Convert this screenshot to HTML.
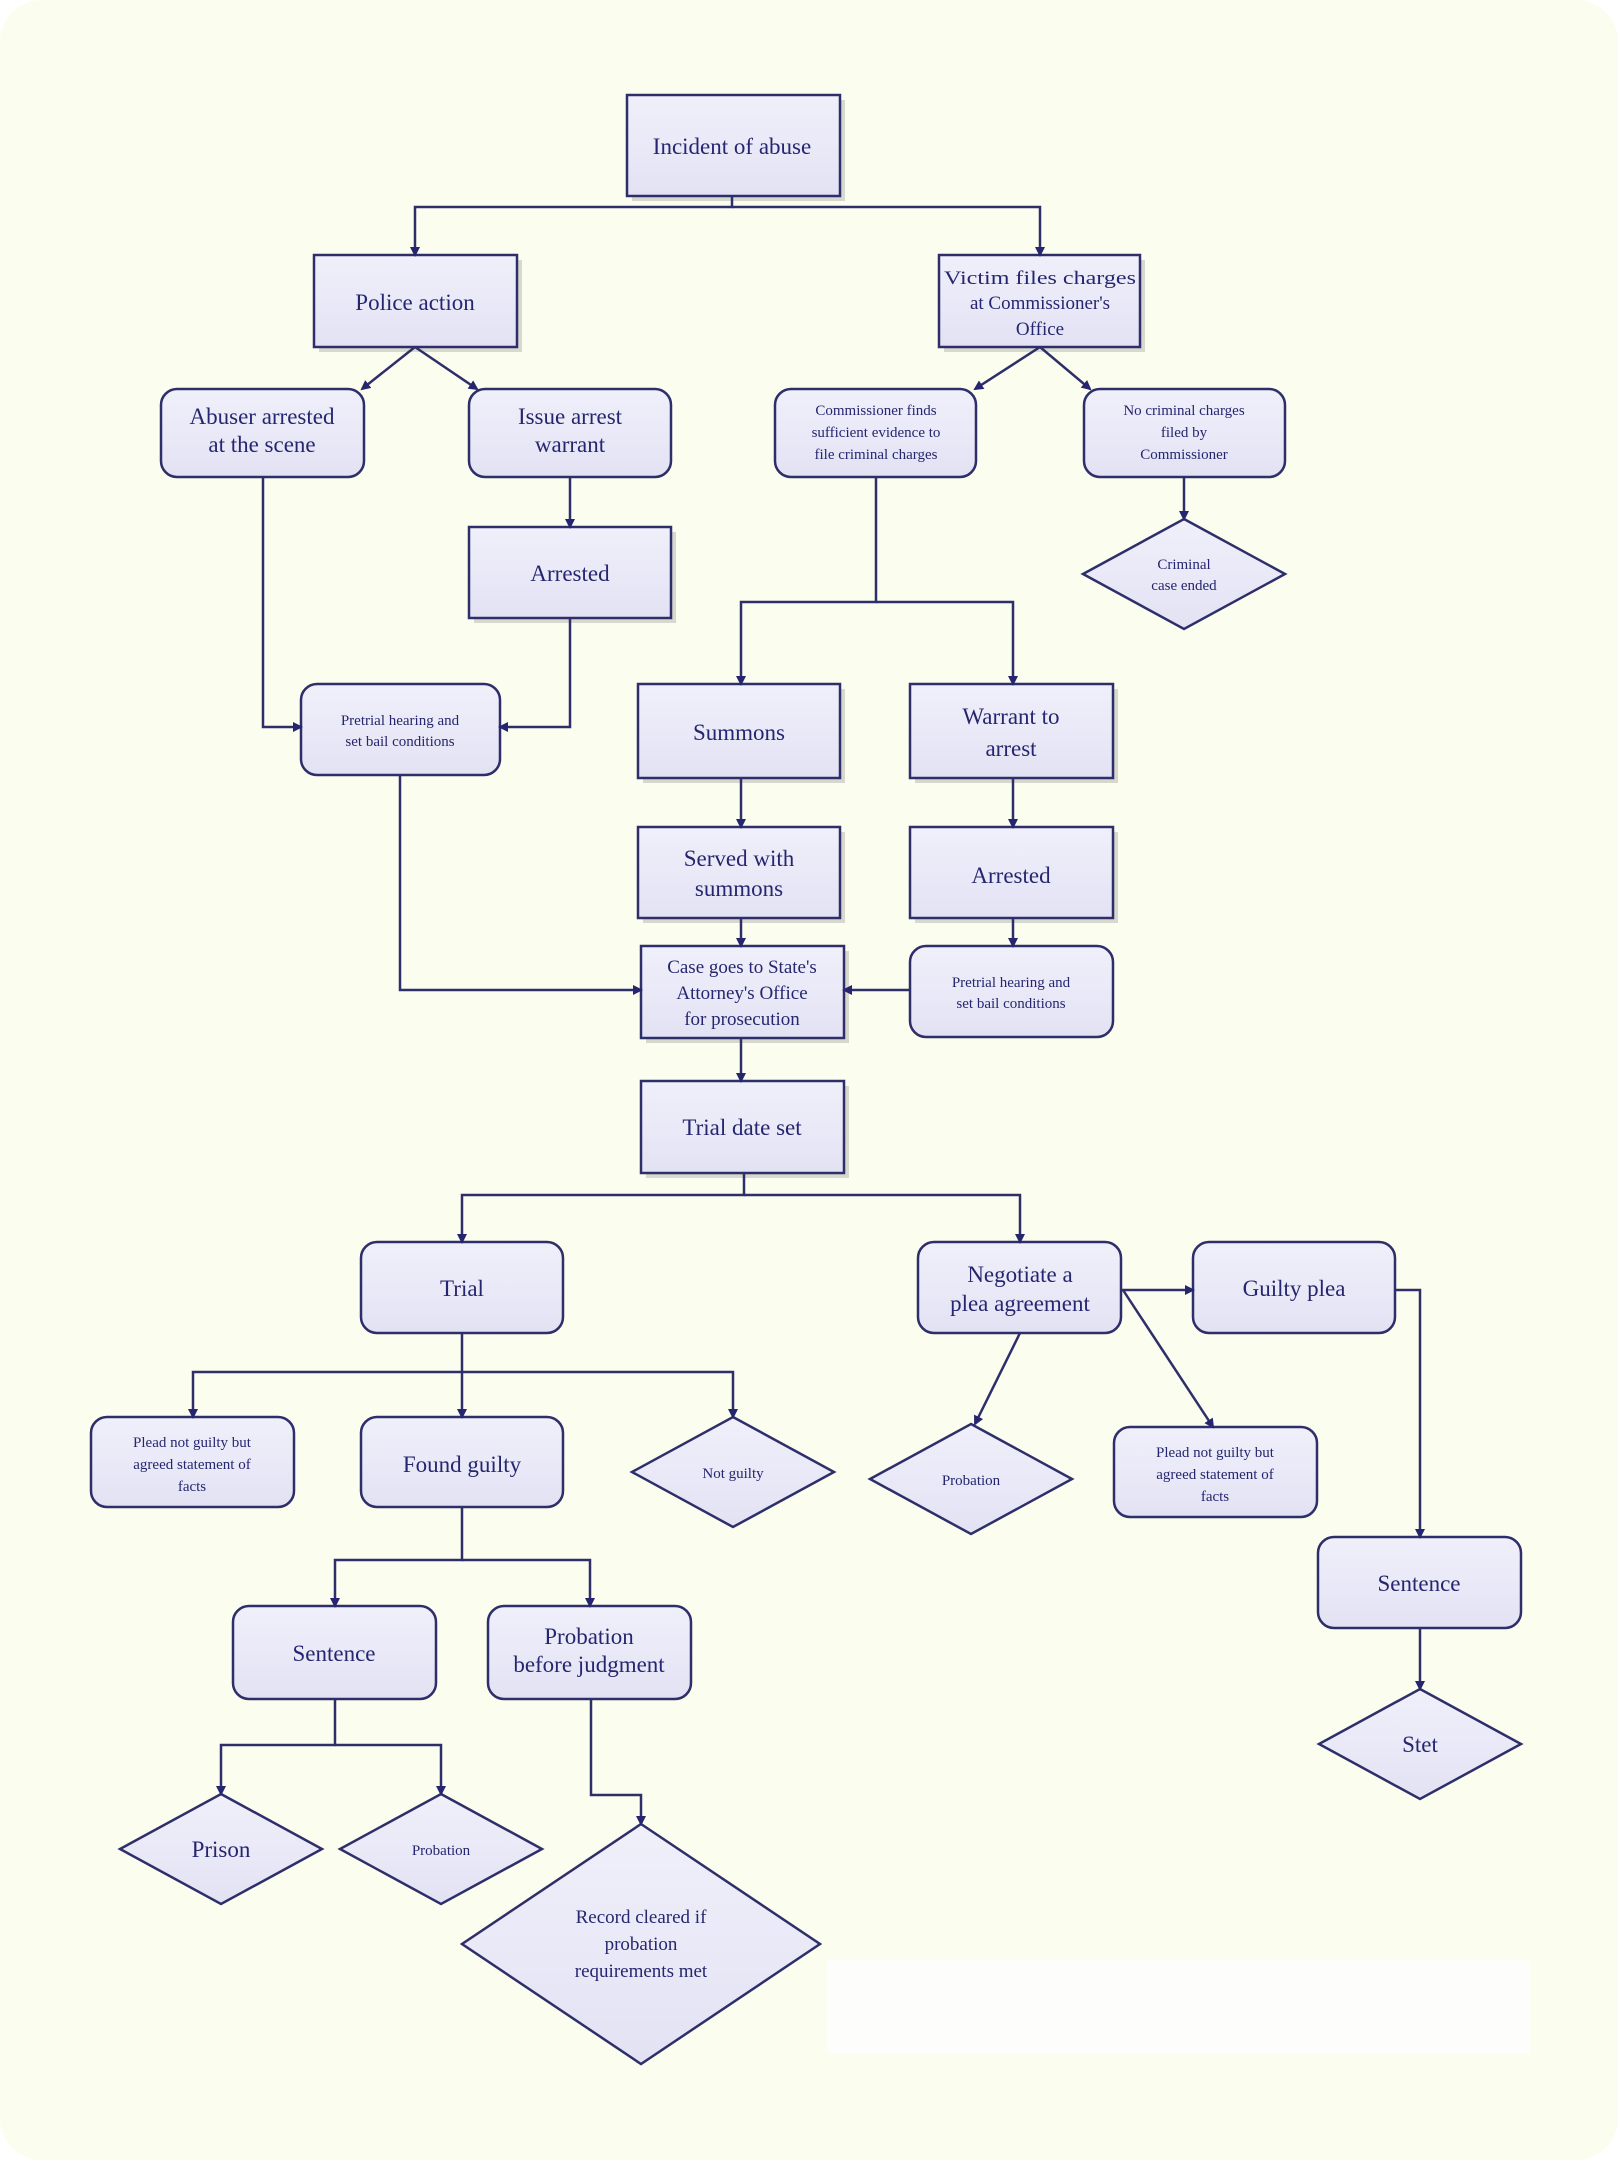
<!DOCTYPE html>
<html><head><meta charset="utf-8"><style>
html,body{margin:0;padding:0;background:#fff;}
svg{display:block;}
text{font-family:"Liberation Serif",serif;fill:#262670;text-anchor:middle;}
</style></head><body>
<svg width="1620" height="2162" viewBox="0 0 1620 2162" xmlns="http://www.w3.org/2000/svg">
<defs>
<marker id="a" markerWidth="10" markerHeight="10" refX="8" refY="5" orient="auto" markerUnits="userSpaceOnUse">
<path d="M0,0 L10,5 L0,10 z" fill="#262670"/></marker>
<linearGradient id="g" x1="0" y1="0" x2="0" y2="1"><stop offset="0" stop-color="#f0f0fb"/><stop offset="1" stop-color="#e2e2f4"/></linearGradient>
</defs>
<rect x="0" y="0" width="1618" height="2160" rx="42" fill="#fbfdee"/>
<rect x="827" y="1960" width="703" height="94" fill="#fdfdfb"/>
<g fill="#c8c8c0" opacity="0.7">
<rect x="632" y="100" width="213" height="101"/><rect x="319" y="260" width="203" height="92"/><rect x="944" y="260" width="201" height="92"/>
<rect x="474" y="532" width="202" height="91"/><rect x="643" y="689" width="202" height="94"/><rect x="915" y="689" width="203" height="94"/>
<rect x="643" y="832" width="202" height="91"/><rect x="915" y="832" width="203" height="91"/><rect x="646" y="951" width="203" height="92"/>
<rect x="646" y="1086" width="203" height="92"/>
</g>
<g fill="url(#g)" stroke="#2e2e6a" stroke-width="2.5">
<rect x="627" y="95" width="213" height="101"/>
<rect x="314" y="255" width="203" height="92"/>
<rect x="939" y="255" width="201" height="92"/>
<rect x="469" y="527" width="202" height="91"/>
<rect x="638" y="684" width="202" height="94"/>
<rect x="910" y="684" width="203" height="94"/>
<rect x="638" y="827" width="202" height="91"/>
<rect x="910" y="827" width="203" height="91"/>
<rect x="641" y="946" width="203" height="92"/>
<rect x="641" y="1081" width="203" height="92"/>
<rect x="161" y="389" width="203" height="88" rx="16"/>
<rect x="469" y="389" width="202" height="88" rx="16"/>
<rect x="775" y="389" width="201" height="88" rx="16"/>
<rect x="1084" y="389" width="201" height="88" rx="16"/>
<rect x="301" y="684" width="199" height="91" rx="16"/>
<rect x="910" y="946" width="203" height="91" rx="16"/>
<rect x="361" y="1242" width="202" height="91" rx="16"/>
<rect x="918" y="1242" width="203" height="91" rx="16"/>
<rect x="1193" y="1242" width="202" height="91" rx="16"/>
<rect x="91" y="1417" width="203" height="90" rx="16"/>
<rect x="361" y="1417" width="202" height="90" rx="16"/>
<rect x="1114" y="1427" width="203" height="90" rx="16"/>
<rect x="1318" y="1537" width="203" height="91" rx="16"/>
<rect x="233" y="1606" width="203" height="93" rx="16"/>
<rect x="488" y="1606" width="203" height="93" rx="16"/>
<polygon points="1184,519 1285,574 1184,629 1083,574"/>
<polygon points="733,1417 834,1472 733,1527 632,1472"/>
<polygon points="971,1424 1072,1479 971,1534 870,1479"/>
<polygon points="1420,1689 1521,1744 1420,1799 1319,1744"/>
<polygon points="221,1794 322,1849 221,1904 120,1849"/>
<polygon points="441,1794 542,1849 441,1904 340,1849"/>
<polygon points="641,1824 820,1944 641,2064 462,1944"/>
</g>
<g fill="none" stroke="#2e2e6a" stroke-width="2.5" marker-end="url(#a)">
<path d="M732,196 V207 H415 V255"/>
<path d="M732,207 H1040 V255"/>
<path d="M415,347 L362,389"/><path d="M415,347 L477,389"/>
<path d="M1040,347 L975,389"/><path d="M1040,347 L1090,389"/>
<path d="M570,477 V527"/>
<path d="M263,477 V727 H301"/>
<path d="M570,618 V727 H500"/>
<path d="M876,477 V602 H741 V684"/>
<path d="M876,602 H1013 V684"/>
<path d="M1184,477 V519"/>
<path d="M741,778 V827"/><path d="M1013,778 V827"/>
<path d="M741,918 V946"/><path d="M1013,918 V946"/>
<path d="M400,775 V990 H641"/>
<path d="M910,990 H844"/>
<path d="M741,1038 V1081"/>
<path d="M744,1173 V1195 H462 V1242"/>
<path d="M744,1195 H1020 V1242"/>
<path d="M1121,1290 H1193"/>
<path d="M1123,1290 L1213,1427"/>
<path d="M1020,1333 L975,1424"/>
<path d="M1395,1290 H1420 V1537"/>
<path d="M1420,1628 V1689"/>
<path d="M462,1333 V1417"/>
<path d="M462,1372 H193 V1417"/>
<path d="M462,1372 H733 V1417"/>
<path d="M462,1507 V1560 H335 V1606"/>
<path d="M462,1560 H590 V1606"/>
<path d="M335,1699 V1745 H221 V1794"/>
<path d="M335,1745 H441 V1794"/>
<path d="M591,1699 V1795 H641 V1824"/>
</g>
<g font-size="23">
<text x="732" y="154">Incident of abuse</text>
<text x="415" y="310">Police action</text>
<text x="1040" y="284" font-size="19" textLength="192" lengthAdjust="spacingAndGlyphs">Victim files charges</text>
<text x="1040" y="309" font-size="19">at Commissioner's</text>
<text x="1040" y="335" font-size="19">Office</text>
<text x="262" y="424">Abuser arrested</text>
<text x="262" y="452">at the scene</text>
<text x="570" y="424">Issue arrest</text>
<text x="570" y="452">warrant</text>
<text x="876" y="415" font-size="15">Commissioner finds</text>
<text x="876" y="437" font-size="15">sufficient evidence to</text>
<text x="876" y="459" font-size="15">file criminal charges</text>
<text x="1184" y="415" font-size="15">No criminal charges</text>
<text x="1184" y="437" font-size="15">filed by</text>
<text x="1184" y="459" font-size="15">Commissioner</text>
<text x="1184" y="569" font-size="15">Criminal</text>
<text x="1184" y="590" font-size="15">case ended</text>
<text x="570" y="581">Arrested</text>
<text x="400" y="725" font-size="15">Pretrial hearing and</text>
<text x="400" y="746" font-size="15">set bail conditions</text>
<text x="739" y="740">Summons</text>
<text x="1011" y="724">Warrant to</text>
<text x="1011" y="756">arrest</text>
<text x="739" y="866">Served with</text>
<text x="739" y="896">summons</text>
<text x="1011" y="883">Arrested</text>
<text x="742" y="973" font-size="19">Case goes to State's</text>
<text x="742" y="999" font-size="19">Attorney's Office</text>
<text x="742" y="1025" font-size="19">for prosecution</text>
<text x="1011" y="987" font-size="15">Pretrial hearing and</text>
<text x="1011" y="1008" font-size="15">set bail conditions</text>
<text x="742" y="1135">Trial date set</text>
<text x="462" y="1296">Trial</text>
<text x="1020" y="1282">Negotiate a</text>
<text x="1020" y="1311">plea agreement</text>
<text x="1294" y="1296">Guilty plea</text>
<text x="192" y="1447" font-size="15">Plead not guilty but</text>
<text x="192" y="1469" font-size="15">agreed statement of</text>
<text x="192" y="1491" font-size="15">facts</text>
<text x="462" y="1472">Found guilty</text>
<text x="733" y="1478" font-size="15">Not guilty</text>
<text x="971" y="1485" font-size="15">Probation</text>
<text x="1215" y="1457" font-size="15">Plead not guilty but</text>
<text x="1215" y="1479" font-size="15">agreed statement of</text>
<text x="1215" y="1501" font-size="15">facts</text>
<text x="1419" y="1591">Sentence</text>
<text x="1420" y="1752">Stet</text>
<text x="334" y="1661">Sentence</text>
<text x="589" y="1644">Probation</text>
<text x="589" y="1672">before judgment</text>
<text x="221" y="1857">Prison</text>
<text x="441" y="1855" font-size="15">Probation</text>
<text x="641" y="1923" font-size="19">Record cleared if</text>
<text x="641" y="1950" font-size="19">probation</text>
<text x="641" y="1977" font-size="19">requirements met</text>
</g>
</svg>
</body></html>
